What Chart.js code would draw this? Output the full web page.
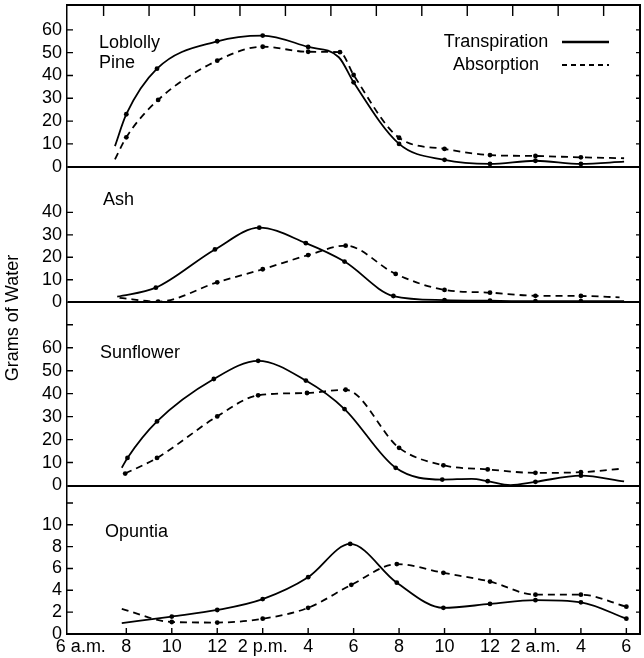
<!DOCTYPE html>
<html>
<head>
<meta charset="utf-8">
<script src="https://cdn.jsdelivr.net/npm/chart.js@4"></script>
<style>
  body { margin: 0; background: #fff; }
  canvas { display: block; }
</style>
</head>
<body>
<canvas id="chart" width="644" height="658"></canvas>
<script>
// time axis, hours since midnight (30 = 6 a.m. next day)
const hourTicks = [6, 8, 10, 12, 14, 16, 18, 20, 22, 24, 26, 28, 30];
const hourLabels = ['6 a.m.', '8', '10', '12', '2 p.m.', '4', '6', '8', '10', '12', '2 a.m.', '4', '6'];
const topTicks = [7, 9, 11, 13, 15, 17, 19, 21, 23, 25, 27, 29];

const pineTicks = [0, 10, 20, 30, 40, 50, 60];
const ashTicks = [0, 10, 20, 30, 40];
const sunTicks = [0, 10, 20, 30, 40, 50, 60, 70];
const opuTicks = [0, 2, 4, 6, 8, 10, 12];

const pineHoursT = [7.5, 8, 9.35, 12, 14, 16, 17.35, 18, 20, 22, 24, 26, 28, 29.9];
const pineTransp = [9, 23, 43, 55, 57.5, 52.5, 48, 37, 10, 3, 1.2, 2.6, 1.2, 2.2];
const pineHoursA = [7.5, 8, 9.4, 12, 14, 16, 17.4, 18, 20, 22, 24, 26, 28, 29.9];
const pineAbsorb = [3.2, 12.9, 29.3, 46.5, 52.6, 50.4, 50.2, 40.2, 12.7, 7.8, 5.1, 4.7, 4.1, 3.7];

const ashHoursT = [7.6, 9.3, 11.9, 13.85, 15.9, 17.6, 19.75, 22, 24, 26, 28, 29.9];
const ashTransp = [2.5, 6.5, 23.5, 33.2, 26.3, 18.1, 2.8, 1, 0.7, 0.5, 0.5, 0.5];
const ashHoursA = [7.7, 9.4, 12, 14, 16, 17.65, 19.85, 22, 24, 26, 28, 29.7];
const ashAbsorb = [2, 0.3, 8.9, 14.7, 21, 25.2, 12.6, 5.5, 4.3, 2.9, 2.8, 2.2];

const sunHoursT = [7.8, 8.05, 9.35, 11.85, 13.8, 15.9, 17.6, 19.85, 21.9, 23.2, 23.9, 24.9, 26, 28, 29.9];
const sunTransp = [7.7, 12, 27.9, 46.4, 54.3, 45.7, 33.3, 7.7, 2.6, 2.9, 1.9, 0.2, 1.6, 4.3, 1.8];
const sunHoursA = [7.95, 9.35, 12, 13.8, 15.95, 17.65, 20, 21.95, 23.9, 26, 28, 29.8];
const sunAbsorb = [5.2, 12, 30.1, 39.3, 40.3, 41.7, 16.4, 8.8, 7, 5.5, 5.8, 7.3];

const opuHoursT = [7.8, 10, 12, 14, 16, 17.85, 19.9, 21.95, 24, 26, 28, 30];
const opuTransp = [1.0, 1.6, 2.2, 3.2, 5.2, 8.25, 4.7, 2.4, 2.75, 3.1, 2.9, 1.4];
const opuHoursA = [7.8, 10, 12, 14, 16, 17.9, 19.9, 21.95, 24, 26, 28, 30];
const opuAbsorb = [2.3, 1.1, 1.05, 1.4, 2.4, 4.5, 6.4, 5.6, 4.8, 3.6, 3.6, 2.5];

const plantNames = [['Loblolly', 'Pine'], ['Ash'], ['Sunflower'], ['Opuntia']];
const seriesNames = ['Transpiration', 'Absorption'];
const yTitle = 'Grams of Water';

Chart.defaults.font.family = "'Liberation Sans', Arial, Helvetica, sans-serif";
Chart.defaults.font.size = 18;
Chart.defaults.color = '#000';

function series(hours, vals, axis, dashed, bare) {
  return {
    data: hours.map((h, i) => ({ x: h, y: vals[i] })),
    yAxisID: axis,
    borderColor: '#000',
    borderWidth: 1.8,
    borderDash: dashed ? [7, 5] : [],
    pointRadius: c => bare.includes(c.dataIndex) ? 0 : 2.4,
    pointBackgroundColor: '#000',
    pointBorderWidth: 0,
    cubicInterpolationMode: 'monotone',
    fill: false
  };
}

function panelAxis(max, ticks, hidden, weight) {
  return {
    type: 'linear',
    position: 'left',
    stack: 'plants',
    stackWeight: weight,
    min: 0,
    max: max,
    afterBuildTicks: s => { s.ticks = ticks.map(v => ({ value: v })); },
    afterFit: s => { s.width = 67; s.paddingTop = 0; s.paddingBottom = 0; },
    ticks: {
      autoSkip: false,
      padding: 5,
      color: '#000',
      callback: v => hidden.includes(v) ? '' : String(v)
    },
    grid: {
      drawTicks: false,
      lineWidth: 2,
      color: c => (c.tick && c.tick.value === 0) ? '#000' : 'rgba(0,0,0,0)'
    },
    border: { display: true, color: '#000', width: 1.5 }
  };
}

// panel layout: axis id, label position inside panel
const panels = [
  { id: 'yPine', dx: 32, dy: 43 },
  { id: 'yAsh', dx: 36, dy: 38 },
  { id: 'ySun', dx: 33, dy: 56 },
  { id: 'yOpu', dx: 38, dy: 51 }
];

const decor = {
  id: 'decor',
  afterDatasetsDraw(chart) {
    const { ctx, chartArea: a, scales } = chart;
    const x = scales.x;
    ctx.save();
    ctx.strokeStyle = '#000';
    ctx.fillStyle = '#000';

    // frame top + right
    ctx.lineWidth = 2;
    ctx.beginPath();
    ctx.moveTo(a.left, a.top);
    ctx.lineTo(a.right, a.top);
    ctx.lineTo(a.right, a.bottom);
    ctx.stroke();

    // inward tick marks
    ctx.lineWidth = 1.4;
    ctx.beginPath();
    hourTicks.slice(1).forEach(h => {
      const px = x.getPixelForValue(h);
      ctx.moveTo(px, a.bottom);
      ctx.lineTo(px, a.bottom - 6);
    });
    topTicks.forEach(h => {
      const px = x.getPixelForValue(h);
      ctx.moveTo(px, a.top);
      ctx.lineTo(px, a.top + 11);
    });
    panels.forEach(p => {
      const s = scales[p.id];
      s.ticks.forEach(t => {
        if (t.value === 0) return;
        const py = s.getPixelForValue(t.value);
        ctx.moveTo(a.left, py);
        ctx.lineTo(a.left + 6, py);
        ctx.moveTo(a.right, py);
        ctx.lineTo(a.right - 4, py);
      });
    });
    ctx.stroke();

    // plant names
    ctx.font = "18px 'Liberation Sans', Arial, sans-serif";
    ctx.textAlign = 'left';
    ctx.textBaseline = 'alphabetic';
    panels.forEach((p, i) => {
      const s = scales[p.id];
      plantNames[i].forEach((line, j) => {
        ctx.fillText(line, a.left + p.dx, s.top + p.dy + j * 20);
      });
    });

    // legend
    ctx.textAlign = 'center';
    seriesNames.forEach((name, i) => {
      const by = a.top + 42 + i * 23;
      ctx.fillText(name, a.right - 144, by);
      ctx.lineWidth = i === 0 ? 2.4 : 2;
      ctx.setLineDash(i === 0 ? [] : [5, 4]);
      ctx.beginPath();
      ctx.moveTo(a.right - 78, by - 5);
      ctx.lineTo(a.right - 31, by - 5);
      ctx.stroke();
    });
    ctx.setLineDash([]);

    // y title
    ctx.translate(13, 318);
    ctx.rotate(-Math.PI / 2);
    ctx.textBaseline = 'middle';
    ctx.fillText(yTitle, 0, 0);
    ctx.restore();
  }
};

new Chart(document.getElementById('chart'), {
  type: 'line',
  data: {
    datasets: [
      series(pineHoursT, pineTransp, 'yPine', false, [0, 6, 13]),
      series(pineHoursA, pineAbsorb, 'yPine', true, [0, 13]),
      series(ashHoursT, ashTransp, 'yAsh', false, [0, 11]),
      series(ashHoursA, ashAbsorb, 'yAsh', true, [0, 11]),
      series(sunHoursT, sunTransp, 'ySun', false, [0, 9, 11, 14]),
      series(sunHoursA, sunAbsorb, 'ySun', true, [11]),
      series(opuHoursT, opuTransp, 'yOpu', false, [0]),
      series(opuHoursA, opuAbsorb, 'yOpu', true, [0])
    ]
  },
  options: {
    responsive: false,
    animation: false,
    layout: { padding: { top: 5, right: 1, left: 0, bottom: 0 } },
    plugins: { legend: { display: false }, tooltip: { enabled: false } },
    scales: {
      x: {
        type: 'linear',
        min: 5.39,
        max: 30.6,
        afterBuildTicks: s => { s.ticks = hourTicks.map(v => ({ value: v })); },
        afterFit: s => { s.height = 24; },
        ticks: {
          autoSkip: false,
          maxRotation: 0,
          padding: 2,
          color: '#000',
          callback: (v, i) => hourLabels[i]
        },
        grid: { display: false, drawTicks: false },
        border: { display: true, color: '#000', width: 2 }
      },
      yOpu: panelAxis(13.6, opuTicks, [12], 148.5),
      ySun: panelAxis(79.8, sunTicks, [70], 183.2),
      yAsh: panelAxis(60.3, ashTicks, [], 135.6),
      yPine: panelAxis(70.9, pineTicks, [], 161.7)
    }
  },
  plugins: [decor]
});
</script>
</body>
</html>
